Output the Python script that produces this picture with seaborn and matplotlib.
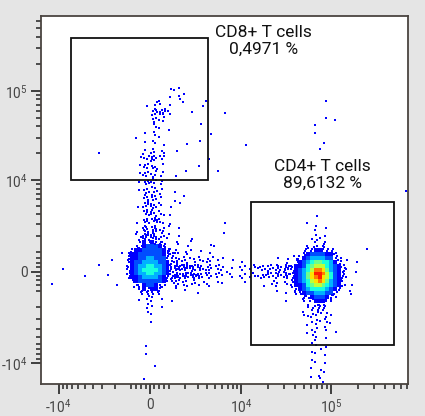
import numpy as np
import matplotlib
matplotlib.use("Agg")
import matplotlib.pyplot as plt
import matplotlib.ticker as mticker
from matplotlib.patches import Rectangle
from matplotlib.colors import ListedColormap
import seaborn as sns

# ---------------- data ----------------
gate_labels = ["CD8+ T cells\n0,4971 %", "CD4+ T cells\n89,6132 %"]
gate_x = [(-7240, 4040), (12940, 501500)]
gate_y = [(10050, 390000), (-6240, 5530)]

x_limits = (-15600, 725000)
y_limits = (-17190, 680000)
major_ticks = [-1e4, 0, 1e4, 1e5]
major_labels = ["-$10^{4}$", "0", "$10^{4}$", "$10^{5}$"]

# sparse events: coarse-grid row -> "column:count" (cells of 0.2 arcsinh units)
sparse_events = {
    9: "16:1 17:2",
    10: "16:1 17:2 18:1",
    11: "13:1 14:2 15:2 16:1 18:1 20:1 21:1 36:1",
    12: "14:6 15:7 16:2 19:1 23:1",
    13: "14:3 15:3 36:1 37:1",
    14: "14:2 15:1 16:1 20:1 35:1",
    15: "12:1 13:1 14:2 15:1 21:1 35:1",
    16: "13:1 14:2 15:1 18:1 20:1 26:1 36:1",
    17: "7:1 13:2 14:3 15:2 17:1 35:1",
    18: "12:1 13:3 14:6 15:3 21:1",
    19: "12:1 13:4 14:4 15:1 20:1",
    20: "12:1 13:4 14:4 15:2 17:1 18:1 22:1",
    21: "12:1 13:4 14:4 15:2",
    22: "12:1 13:4 14:4 15:1 17:1 46:1",
    23: "13:4 14:5 15:2 17:1 18:1",
    24: "12:1 13:5 14:5 15:2 16:1 17:1",
    25: "13:5 14:5 15:3 16:1 35:1",
    26: "12:1 13:5 14:6 15:3 16:1 23:1 34:1",
    27: "12:1 13:7 14:7 15:3 16:1 17:1 35:2 36:1",
    28: "12:2 13:8 14:8 15:4 16:2 17:1 19:1 23:1 34:1 35:2 36:1",
    29: "17:2 18:1 19:1 21:1 22:1",
    30: "10:1 17:3 18:2 19:1 20:1 21:1 41:1",
    31: "9:1 17:5 18:4 19:3 20:3 21:3 22:2 23:1 24:1 25:1 30:1 31:2 39:1 40:1",
    32: "2:1 7:1 17:10 18:9 19:8 20:6 21:5 22:3 23:2 24:1 25:2 26:2 27:3 28:4 29:5 30:6 31:7 39:1",
    33: "5:1 8:1 17:10 18:9 19:8 20:6 21:5 22:3 23:2 24:2 25:2 26:2 27:3 28:4 29:5 30:6 31:7 39:1 40:1",
    34: "1:1 9:1 17:5 18:4 19:3 20:2 21:2 22:1 23:1 26:1 28:1 29:2 30:2 31:2 39:1",
    35: "17:1 18:1 20:1 30:1 31:1 39:2",
    36: "12:1 13:2 14:2 15:1 16:1 31:1",
    37: "13:2 14:1 15:1",
    38: "13:1 14:1 33:2 34:3 35:3 36:2 37:1",
    39: "14:1 34:2 35:3 36:2 37:1",
    40: "34:2 35:2 36:2 37:1",
    41: "34:1 35:2 36:1",
    42: "13:1 34:1 35:2 36:1",
    43: "13:1 34:1 35:1 36:1",
    44: "34:1 35:1 36:1",
    45: "14:1 34:1 35:1 36:1",
    46: "13:1 34:1 35:2",
    47: "36:1",
}

# density levels (1-9) of the CD4+ population core, '+' = a few scattered events
cd4_core = [
    "000000+0+00000",
    "0000+0+0+00000",
    "000+0+11+++000",
    "000+1222211+00",
    "0++12333322++0",
    "0+1234554431+0",
    "+112456664321+",
    "+123468875321+",
    "+123579986421+",
    "+123578976421+",
    "+123467875321+",
    "+112456654321+",
    "0+1234444321+0",
    "0++12233322+00",
    "000++12221++00",
    "000+0+111++000",
    "0000+0+++00000",
    "00000+0++00000",
]

# density levels of the double-negative population near zero
zero_core = [
    "000+1+1+++00",
    "00++12221+00",
    "0+11222221++",
    "+112222221++",
    "+112233222++",
    "+1223333221+",
    "+1233443321+",
    "+1234444321+",
    "+1233443321+",
    "+112333321++",
    "0+12222221++",
    "00++1221++00",
    "000+1+11+000",
    "000+0++0+000",
]

# ---------------- display settings ----------------
COF = 1940.0                 # arcsinh cofactor of the biexponential-like axes
COARSE_X0, COARSE_YTOP, COARSE_STEP = -2.8, 6.6, 0.2
CD4_ORIGIN = (3.6, 0.8)
ZERO_ORIGIN = (-0.6, 0.8)
FINE_STEP = 0.1
level_colors = [plt.cm.jet(p) for p in [0.11, 0.2, 0.3, 0.38, 0.48, 0.58, 0.67, 0.78, 0.88]]
level_cmap = ListedColormap(level_colors)
DOT = "#0000ff"


def fwd(v):
    return np.arcsinh(np.asarray(v, dtype=float) / COF)


def inv(t):
    return COF * np.sinh(np.asarray(t, dtype=float))


def offsets(seed, n):
    k = seed + np.arange(n)
    return (0.5 + k * 0.7548776662) % 1.0, (0.5 + k * 0.5698402910) % 1.0


sns.set_style("white")
plt.rcParams["font.family"] = ["Roboto", "DejaVu Sans"]
plt.rcParams["mathtext.fontset"] = "custom"
plt.rcParams["mathtext.rm"] = "Roboto"
plt.rcParams["mathtext.it"] = "Roboto"
plt.rcParams["mathtext.bf"] = "Roboto"

fig = plt.figure(figsize=(4.25, 4.16), dpi=100, facecolor="#e5e5e5")
ax = fig.add_axes([0.0976, 0.0776, 0.8624, 0.8839])
ax.set_facecolor("white")
ax.set_xscale("function", functions=(fwd, inv))
ax.set_yscale("function", functions=(fwd, inv))

# sparse events
xs, ys = [], []
for row, spec in sparse_events.items():
    for item in spec.split():
        col, n = (int(s) for s in item.split(":"))
        fx, fy = offsets(row * 37 + col * 11, n)
        u = COARSE_X0 + COARSE_STEP * (col + 0.1 + 0.8 * fx)
        v = COARSE_YTOP - COARSE_STEP * (row + 0.1 + 0.8 * fy)
        xs.extend(inv(u))
        ys.extend(inv(v))


def core_layers(grid, origin):
    nr, nc = len(grid), len(grid[0])
    lev = np.zeros((nr, nc))
    u0, v0 = origin
    dx, dy = [], []
    for i, r in enumerate(grid):
        for j, c in enumerate(r):
            if c == "+":
                fx, fy = offsets(i * 13 + j * 7, 2)
                dx.extend(inv(u0 + FINE_STEP * (j + fx)))
                dy.extend(inv(v0 - FINE_STEP * (i + fy)))
            else:
                lev[i, j] = int(c)
    ue = u0 + FINE_STEP * np.arange(nc + 1)
    ve = v0 - FINE_STEP * np.arange(nr + 1)
    return inv(ue), inv(ve), np.ma.masked_less(lev, 1), dx, dy


for grid, origin in [(zero_core, ZERO_ORIGIN), (cd4_core, CD4_ORIGIN)]:
    xe, ye, levels, dx, dy = core_layers(grid, origin)
    xs.extend(dx)
    ys.extend(dy)
    ax.pcolormesh(xe, ye, levels, cmap=level_cmap, vmin=0.5, vmax=9.5,
                  shading="flat", antialiased=False, edgecolors="none", zorder=2)

sns.scatterplot(x=xs, y=ys, ax=ax, marker="s", s=2.4, linewidth=0,
                color=DOT, zorder=3, legend=False)

# gates
for (x0, x1), (y0, y1) in zip(gate_x, gate_y):
    ax.add_patch(Rectangle((x0, y0), x1 - x0, y1 - y0, fill=False,
                           edgecolor="#111111", linewidth=1.3, zorder=5))

label_pos = [(0.606, 0.933), (0.767, 0.569)]
for txt, (px, py) in zip(gate_labels, label_pos):
    ax.text(px, py, txt, transform=ax.transAxes, ha="center", va="center",
            fontsize=12.5, linespacing=1.15, color="#111111", zorder=6,
            bbox=dict(facecolor="white", alpha=0.6, edgecolor="none", pad=0.5))

ax.set_xlim(*x_limits)
ax.set_ylim(*y_limits)

minor = [200, 450, 700, -200, -450, -700]
for k in range(1, 10):
    minor += [k * 1000, -k * 1000]
for n in (4, 5):
    for k in range(2, 10):
        minor += [k * 10 ** n, -k * 10 ** n]
minor = sorted(minor)

for axis in (ax.xaxis, ax.yaxis):
    axis.set_major_locator(mticker.FixedLocator(major_ticks))
    axis.set_major_formatter(mticker.FixedFormatter(major_labels))
    axis.set_minor_locator(mticker.FixedLocator(minor))
    axis.set_minor_formatter(mticker.NullFormatter())

ax.tick_params(which="major", direction="out", length=7, width=1.2,
               color="#222222", labelsize=9.8, labelcolor="#444444", pad=3,
               bottom=True, left=True)
ax.tick_params(which="minor", direction="out", length=3.5, width=1.1,
               color="#222222", bottom=True, left=True)
ax.set_xlabel("")
ax.set_ylabel("")
for side, sp in ax.spines.items():
    sp.set_visible(True)
    sp.set_color("#4a4440")
    sp.set_linewidth(1.3)

fig.savefig("out.png", dpi=100, facecolor=fig.get_facecolor())
